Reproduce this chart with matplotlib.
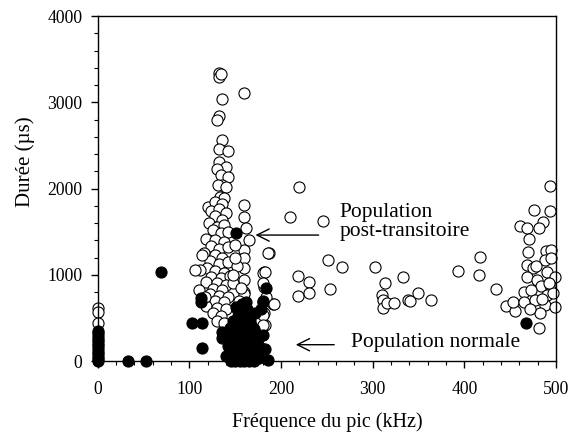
import matplotlib
matplotlib.use("Agg")
import matplotlib.pyplot as plt
from matplotlib.ticker import MultipleLocator

plt.rcParams["font.family"] = ["Liberation Serif", "DejaVu Serif"]

# post-transient population (open circles): peak frequency (kHz), duration (us)
open_freq = [
    132, 132, 134, 135, 132, 130, 136, 132, 142, 132, 140, 130, 134, 142, 135, 131, 140,
    133, 138, 120, 128, 136, 124, 132, 140, 128, 136, 121, 130, 138, 126, 134, 142, 118,
    128, 138, 124, 132, 142, 116, 128, 136, 122, 132, 142, 119, 128, 138, 112, 124, 134,
    144, 118, 130, 140, 126, 136, 114, 122, 132, 142, 128, 138, 118, 130, 140, 126, 134,
    130, 138, 106, 110, 117, 114,
    160, 160, 162, 159, 159, 159, 159, 160, 160, 160, 165, 158, 150, 152, 148, 154, 150,
    156, 148, 152,
    187, 181, 181, 180, 181, 182, 191, 180, 186, 182, 180, 184, 192, 180, 180,
    160, 210, 220, 246, 251, 266, 219, 231, 219, 231, 253,
    302, 313, 310, 311, 311, 316, 323, 333, 339, 341, 349, 364, 393, 417, 416, 435, 445,
    455, 453, 465, 465,
    493, 476, 493, 461, 468, 486, 482, 471, 470, 489, 495, 488, 495, 468, 475, 490, 468,
    499, 479, 484, 493, 473, 490, 497, 477, 488, 499, 483, 481, 478, 492, 485, 472,
    0, 0, 0,
]
open_dur = [
    3343, 3297, 3330, 3034, 2840, 2794, 2562, 2454, 2438, 2311, 2253, 2230, 2157, 2137,
    2041, 2040, 2020, 1905, 1890, 1789, 1850, 1820, 1740, 1760, 1720, 1680, 1640, 1600,
    1560, 1580, 1520, 1480, 1500, 1420, 1400, 1380, 1330, 1300, 1320, 1250, 1230, 1200,
    1160, 1130, 1150, 1080, 1050, 1020, 1060, 980, 960, 990, 920, 900, 880, 840, 820, 760,
    780, 760, 740, 700, 680, 640, 620, 600, 560, 520, 470, 440, 1055, 823, 745, 1229,
    1809, 1674, 1538, 1287, 1190, 1075, 940, 805, 630, 780, 1403, 515, 1350, 1100, 900,
    700, 1200, 850, 1000, 600,
    1248, 1036, 862, 688, 553, 417, 657, 1020, 1248, 1036, 908, 746, 661, 533, 417,
    3111, 1666, 2021, 1623, 1171, 1086, 985, 920, 754, 792, 831,
    1086, 900, 765, 707, 611, 669, 676, 977, 707, 699, 792, 707, 1040, 1202, 997, 831,
    641, 583, 688, 803, 688,
    2033, 1751, 1739, 1565, 1538, 1615, 1546, 1411, 1267, 1275, 1287, 1171, 1190, 1113,
    1075, 1036, 977, 977, 939, 870, 881, 823, 765, 785, 707, 649, 622, 553, 379, 1100,
    900, 720, 600,
    620, 572, 437,
]

# normal population (filled circles)
fill_freq = [
    0, 0, 0, 0, 0, 0, 0, 0, 0, 0, 0, 0, 0,
    33, 53, 69, 103, 114, 114, 113, 113, 135, 135, 151, 186, 467,
    145, 150, 155, 160, 165, 170, 148, 158, 168, 146, 152, 162, 172, 178, 150, 160, 170,
    145, 155, 165, 175, 150, 160, 170, 148, 158, 166, 155, 163, 180, 182, 176, 140, 142,
    180, 178, 183, 157, 153, 167,
    149, 154, 161, 169, 174, 147, 156, 163, 171, 152, 159, 166, 144, 151, 162, 172,
]
fill_dur = [
    0, 20, 50, 80, 110, 140, 170, 200, 230, 260, 290, 320, 350,
    0, 0, 1036, 444, 444, 147, 727, 680, 340, 265, 1480, 12, 437,
    0, 0, 0, 0, 0, 0, 30, 40, 30, 100, 120, 110, 90, 150, 200, 210, 200,
    280, 300, 290, 260, 380, 400, 370, 470, 500, 480, 580, 600, 300, 140, 40, 60, 180,
    700, 600, 843, 660, 520, 420,
    60, 160, 60, 160, 200, 240, 240, 340, 320, 430, 550, 540, 380, 630, 680, 560,
]

fig = plt.figure(figsize=(5.72, 4.34), dpi=100)
ax = fig.add_axes([0.171, 0.168, 0.801, 0.795])

ax.scatter(open_freq, open_dur, s=64, facecolors="white", edgecolors="black",
           linewidths=0.8, zorder=2, clip_on=False)
ax.scatter(fill_freq, fill_dur, s=64, facecolors="black", edgecolors="black",
           linewidths=0.8, zorder=3, clip_on=False)

ax.set_xlim(0, 500)
ax.set_ylim(0, 4000)
ax.xaxis.set_major_locator(MultipleLocator(100))
ax.xaxis.set_minor_locator(MultipleLocator(20))
ax.yaxis.set_major_locator(MultipleLocator(1000))
ax.yaxis.set_minor_locator(MultipleLocator(200))
ax.tick_params(which="major", direction="out", length=5, width=1, labelsize=12.7)
ax.tick_params(axis="x", which="major", pad=9)
ax.tick_params(axis="y", which="major", pad=6)
ax.tick_params(which="minor", direction="out", length=3, width=0.8)
for sp in ax.spines.values():
    sp.set_linewidth(1)

# axis titles placed in figure pixels, as in the source figure
fig.text(327 / 572, 1 - 422 / 434, "Fréquence du pic (kHz)", fontsize=14.5,
         ha="center", va="center")
fig.text(25 / 572, 1 - 162 / 434, "Durée (µs)", fontsize=15, rotation=90,
         ha="center", va="center")

arrow = dict(arrowstyle="->", color="black", lw=1, mutation_scale=22)
ax.annotate("", xy=(169, 1461), xytext=(244, 1461), arrowprops=arrow)
ax.text(264, 1612, "Population\npost-transitoire", fontsize=15.5, va="center",
        ha="left", linespacing=0.95)
ax.annotate("", xy=(213, 190), xytext=(261, 190), arrowprops=arrow)
ax.text(276, 210, "Population normale", fontsize=15.5, va="center", ha="left")

fig.savefig("out.png", dpi=100)
